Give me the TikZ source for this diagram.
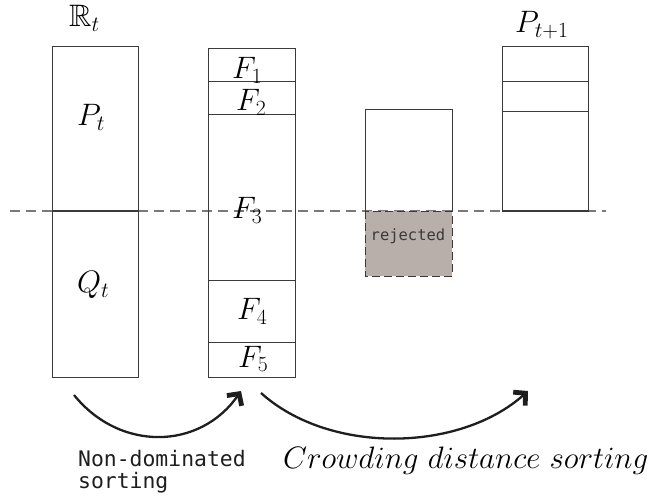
\RequirePackage{fix-cm}
\documentclass[tikz,border=0pt]{standalone}
\usepackage{amssymb}
\DeclareFontFamily{U}{msb}{}
\DeclareFontShape{U}{msb}{m}{n}{<-6> msbm5 <6-8> msbm7 <8-> msbm10}{}
\usepackage{fontspec}
\setmonofont{DejaVu Sans Mono}
\usetikzlibrary{arrows.meta}
\definecolor{boxc}{HTML}{3A3A3A}
\definecolor{dashc}{HTML}{7A7A7A}
\definecolor{rejc}{HTML}{B8AEAA}
\definecolor{arrc}{HTML}{1E1E1E}
\begin{document}
\begin{tikzpicture}[x=1pt,y=-1pt,
  box/.style={draw=boxc, line width=0.9pt},
  sep/.style={draw=boxc, line width=0.6pt},
  lbl/.style={inner sep=0pt, anchor=base west, font=\fontsize{31}{35}\selectfont},
  toplbl/.style={inner sep=0pt, anchor=base west, font=\fontsize{31}{35}\selectfont},
  flow/.style={draw=arrc, line width=2.3pt, -{Straight Barb[length=8.5pt,width=18pt,line width=4.8pt]}}]
\useasboundingbox (0,0) rectangle (654,497);
% dashed horizontal line
\draw[dashc, line width=1.2pt, dash pattern=on 10pt off 6pt] (10,211) -- (606,211);
% R_t box
\draw[box] (52,46) rectangle (138,377);
\draw[boxc, line width=1.4pt] (52,211) -- (138,211);
\node[toplbl] (Rt) at (69,27) {$\mathbb{R}_t$};
\node[lbl] (Pt) at (77,126) {$P_t$};
\node[lbl] (Qt) at (77,293) {$Q_t$};
% F box
\draw[box] (208,48) rectangle (295,377);
\draw[sep] (208,81) -- (295,81);
\draw[box] (208,114) -- (295,114);
\draw[box] (208,280) -- (295,280);
\draw[sep] (208,342) -- (295,342);
\node[lbl] (F1) at (232,79) {$F_1$};
\node[lbl] (F2) at (236,111) {$F_2$};
\node[lbl] (F3) at (232,219) {$F_3$};
\node[lbl] (F4) at (237,320) {$F_4$};
\node[lbl] (F5) at (238,367) {$F_5$};
% middle box
\draw[box] (365,109) rectangle (452,211);
\draw[fill=rejc, draw=boxc, line width=0.9pt, dash pattern=on 8pt off 4pt] (365,211) rectangle (452,276);
\node[inner sep=0pt, font=\ttfamily\fontsize{15.5}{17}\selectfont, text=boxc] (rej) at (408,236) {rejected};
% P_{t+1} box
\draw[box] (502,46) rectangle (588,211);
\draw[sep] (502,81) -- (588,81);
\draw[box] (502,111) -- (588,111);
\draw[boxc, line width=1.4pt] (502,211) -- (588,211);
\node[toplbl] (Pn) at (515,33) {$P_{t+1}$};
% arrows
\coordinate (a1s) at (74,395);
\coordinate (a1e) at (241,391);
\coordinate (a2s) at (261,393);
\coordinate (a2e) at (528,391);
\draw[flow] (a1s) .. controls (120,452) and (200,450) .. (a1e);
\draw[flow] (a2s) .. controls (330,455) and (460,452) .. (a2e);
% captions
\node[inner sep=0pt, anchor=north west, align=left, font=\ttfamily\fontsize{21.4}{22}\selectfont, text=arrc] (nds) at (78,450) {Non-dominated\\sorting};
\node[inner sep=0pt, anchor=base west, font=\fontsize{31}{36}\selectfont] (cds) at (283,468) {$Crowding\ distance\ sorting$};
\end{tikzpicture}
\end{document}
